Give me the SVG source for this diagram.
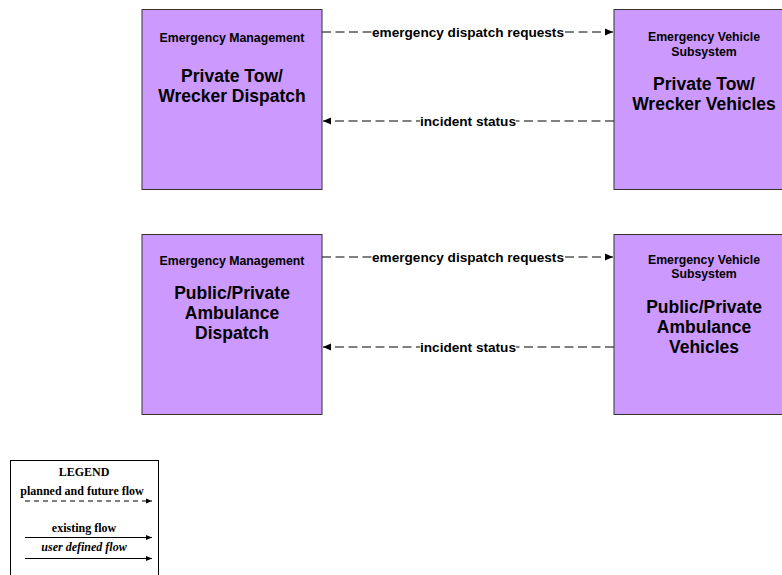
<svg xmlns="http://www.w3.org/2000/svg" width="782" height="575" viewBox="0 0 782 575">
<style>
.box{fill:#CC99FF;stroke:#333;stroke-width:1}
.sm{font-family:"Liberation Sans",Arial,sans-serif;font-weight:bold;font-size:12.3px;fill:#000;text-anchor:middle}
.big{font-family:"Liberation Sans",Arial,sans-serif;font-weight:bold;font-size:17.5px;fill:#000;text-anchor:middle}
.lbl{font-family:"Liberation Sans",Arial,sans-serif;font-weight:bold;font-size:13.6px;fill:#000;text-anchor:middle}
.flow{stroke:#000;stroke-width:1;fill:none;stroke-dasharray:9 4.5}
.bg{fill:#fff}
.lg{font-family:"Liberation Serif","Times New Roman",serif;font-weight:bold;font-size:12px;fill:#000;text-anchor:middle}
</style>
<defs>
<marker id="ah" markerUnits="userSpaceOnUse" markerWidth="8" markerHeight="8" refX="8" refY="4" orient="auto">
<path d="M0,0.5 L8,4 L0,7.5 z" fill="#000"/>
</marker>
<marker id="ahs" markerUnits="userSpaceOnUse" markerWidth="6" markerHeight="6" refX="6" refY="3" orient="auto">
<path d="M0,0.5 L6,3 L0,5.5 z" fill="#000"/>
</marker>
</defs>

<g id="connectors">
<line class="flow" x1="322" y1="32" x2="613" y2="32" marker-end="url(#ah)"/>
<rect class="bg" x="372" y="24" width="192" height="16"/>
<text class="lbl" x="468" y="36.5">emergency dispatch requests</text>
<line class="flow" x1="614" y1="121" x2="323" y2="121" marker-end="url(#ah)"/>
<rect class="bg" x="420" y="113" width="96" height="16"/>
<text class="lbl" x="468" y="125.5">incident status</text>

<line class="flow" x1="322" y1="257" x2="613" y2="257" marker-end="url(#ah)"/>
<rect class="bg" x="372" y="249" width="192" height="16"/>
<text class="lbl" x="468" y="261.5">emergency dispatch requests</text>
<line class="flow" x1="614" y1="347" x2="323" y2="347" marker-end="url(#ah)"/>
<rect class="bg" x="420" y="339" width="96" height="16"/>
<text class="lbl" x="468" y="351.5">incident status</text>
</g>

<g id="tow-dispatch">
<rect class="box" x="142" y="9.5" width="180" height="180"/>
<text class="sm" x="232" y="41.5">Emergency Management</text>
<text class="big" x="232" y="81.5">Private Tow/</text>
<text class="big" x="232" y="101.5">Wrecker Dispatch</text>
</g>

<g id="tow-vehicles">
<rect class="box" x="614" y="9.5" width="180" height="180"/>
<text class="sm" x="704" y="41">Emergency Vehicle</text>
<text class="sm" x="704" y="55.5">Subsystem</text>
<text class="big" x="704" y="89.5">Private Tow/</text>
<text class="big" x="704" y="109.5">Wrecker Vehicles</text>
</g>

<g id="ambulance-dispatch">
<rect class="box" x="142" y="234.5" width="180" height="180"/>
<text class="sm" x="232" y="264.5">Emergency Management</text>
<text class="big" x="232" y="299">Public/Private</text>
<text class="big" x="232" y="319">Ambulance</text>
<text class="big" x="232" y="339">Dispatch</text>
</g>

<g id="ambulance-vehicles">
<rect class="box" x="614" y="234.5" width="180" height="180"/>
<text class="sm" x="704" y="263.5">Emergency Vehicle</text>
<text class="sm" x="704" y="278">Subsystem</text>
<text class="big" x="704" y="312.5">Public/Private</text>
<text class="big" x="704" y="332.5">Ambulance</text>
<text class="big" x="704" y="352.5">Vehicles</text>
</g>

<g id="legend">
<rect x="10.5" y="460.5" width="148" height="130" fill="#fff" stroke="#000" stroke-width="1"/>
<text class="lg" x="84" y="476">LEGEND</text>
<text class="lg" x="82" y="495">planned and future flow</text>
<line x1="25" y1="501" x2="152" y2="501" stroke="#000" stroke-width="1" stroke-dasharray="5 4" marker-end="url(#ahs)"/>
<text class="lg" x="84" y="531.5">existing flow</text>
<line x1="25" y1="537.5" x2="152" y2="537.5" stroke="#000" stroke-width="1" marker-end="url(#ahs)"/>
<text class="lg" x="84" y="551" font-style="italic">user defined flow</text>
<line x1="25" y1="558.5" x2="152" y2="558.5" stroke="#000" stroke-width="1" marker-end="url(#ahs)"/>
</g>
</svg>
